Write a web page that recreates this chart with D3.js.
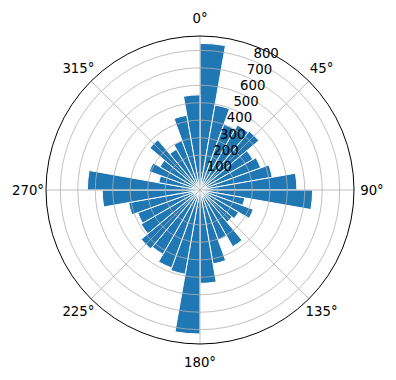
<!DOCTYPE html>
<html>
<head>
<meta charset="utf-8">
<script src="https://cdn.jsdelivr.net/npm/d3@7"></script>
<style>
  html, body { margin: 0; padding: 0; background: #fff; }
  svg { display: block; font-family: "DejaVu Sans", sans-serif; }
</style>
</head>
<body>
<svg id="chart" width="396" height="380"></svg>
<script>
// direction bins, 10 degrees each, clockwise from north
const binStarts = d3.range(0, 360, 10);
const counts = [
  840, 495, 400, 430, 440, 350, 370, 420, 555,
  645, 260, 325, 255, 240, 375, 305, 430, 535,
  825, 490, 475, 425, 440, 390, 380, 415, 560,
  645, 240, 310, 265, 375, 270, 300, 435, 545
];
const thetaTicks = [0, 45, 90, 135, 180, 225, 270, 315];

(function () {
  const W = 396, H = 380;
  const CX = 200, CY = 190, R = 154;
  const svg = d3.select("#chart");
  const g = svg.append("g").attr("transform", `translate(${CX},${CY})`);

  const rmax = d3.max(counts) * 1.05;
  const r = d3.scaleLinear().domain([0, rmax]).range([0, R]);
  const ang = d3.scaleLinear().domain([0, 360]).range([0, 2 * Math.PI]);

  const bins = binStarts.map((s, i) => ({ start: s, end: s + 10, v: counts[i] }));

  const arc = d3.arc()
    .innerRadius(0)
    .outerRadius((d) => r(d.v))
    .startAngle((d) => ang(d.start))
    .endAngle((d) => ang(d.end));

  // bars
  g.append("g")
    .selectAll("path")
    .data(bins)
    .join("path")
    .attr("d", arc)
    .attr("fill", "#1f77b4")
    .attr("stroke", "#fff")
    .attr("stroke-width", 1)
    .attr("stroke-linejoin", "miter");

  // grid (drawn over bars, like the reference)
  const rTicks = r.ticks(8).filter((t) => t > 0);
  g.append("g")
    .selectAll("circle")
    .data(rTicks)
    .join("circle")
    .attr("r", (d) => r(d))
    .attr("fill", "none")
    .attr("stroke", "#b0b0b0")
    .attr("stroke-width", 0.8);

  g.append("g")
    .selectAll("line")
    .data(thetaTicks)
    .join("line")
    .attr("x1", 0)
    .attr("y1", 0)
    .attr("x2", (d) => R * Math.sin(ang(d)))
    .attr("y2", (d) => -R * Math.cos(ang(d)))
    .attr("stroke", "#b0b0b0")
    .attr("stroke-width", 0.8);

  // outer spine
  g.append("circle")
    .attr("r", R)
    .attr("fill", "none")
    .attr("stroke", "#000")
    .attr("stroke-width", 1);

  // theta labels
  const LR = 172;
  g.append("g")
    .selectAll("text")
    .data(thetaTicks)
    .join("text")
    .attr("x", (d) => LR * Math.sin(ang(d)))
    .attr("y", (d) => -LR * Math.cos(ang(d)))
    .attr("text-anchor", "middle")
    .attr("dominant-baseline", "central")
    .attr("font-size", "13.3px")
    .attr("fill", "#000")
    .text((d) => d + "°");

  // radial labels at 22.5 degrees
  const la = ang(22.5);
  g.append("g")
    .selectAll("text")
    .data(rTicks)
    .join("text")
    .attr("x", (d) => r(d) * Math.sin(la))
    .attr("y", (d) => -r(d) * Math.cos(la) - 3)
    .attr("text-anchor", "start")
    .attr("font-size", "13.3px")
    .attr("fill", "#000")
    .text((d) => d);
})();
</script>
</body>
</html>
